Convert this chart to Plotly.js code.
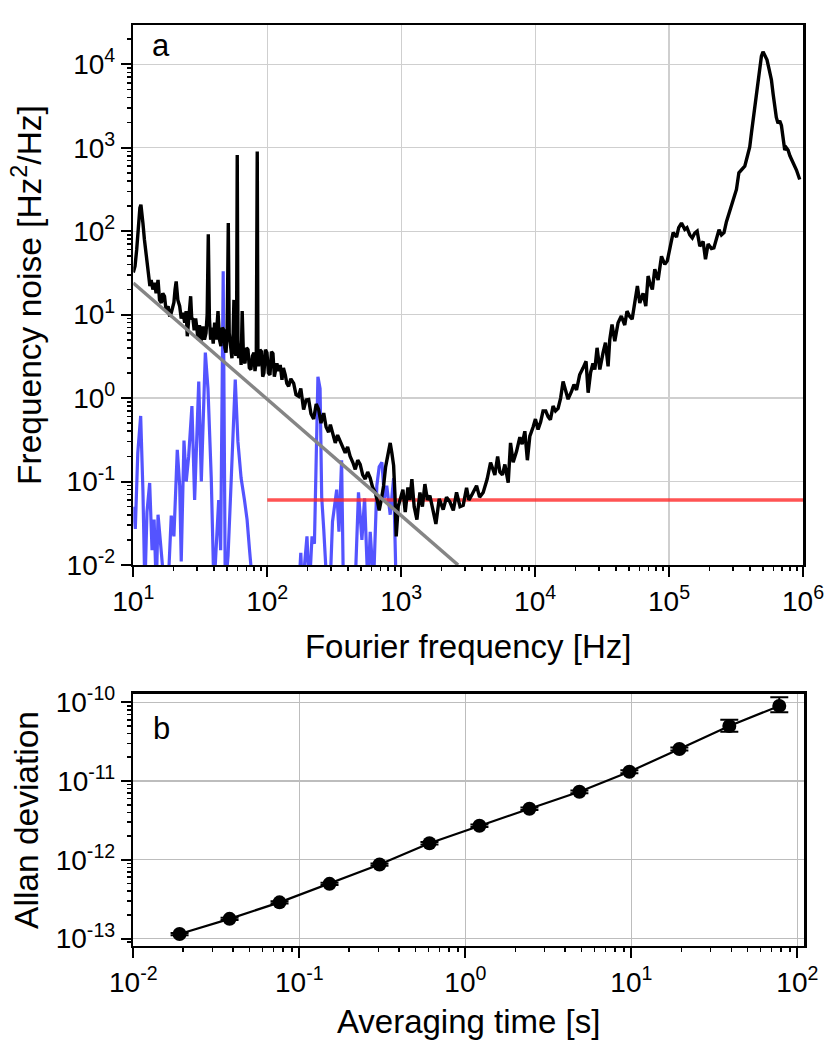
<!DOCTYPE html>
<html>
<head>
<meta charset="utf-8">
<script src="https://cdn.plot.ly/plotly-3.0.1.min.js"></script>
<style>html,body{margin:0;padding:0;background:#fff;}#chart{width:830px;height:1047px;}</style>
</head>
<body>
<div id="chart"></div>
<script>
// Panel a: frequency noise spectrum (black)
var freqBlack = [10.0,10.3,10.6,10.9,11.2,11.4,11.6,11.8,12.1,12.5,12.8,13.0,13.3,13.6,14.0,14.4,14.8,15.3,15.7,16.2,16.6,17.1,17.6,18.2,18.7,19.2,19.7,20.1,20.5,20.9,21.5,22.2,22.8,23.5,24.2,24.8,25.3,25.8,26.3,26.8,27.3,27.9,28.5,29.2,29.8,30.4,31.2,32.0,33.1,34.0,34.9,35.6,36.3,37.0,37.8,38.6,39.5,40.5,41.5,42.9,44.0,45.1,46.2,47.5,48.3,49.2,50.2,51.2,52.0,53.1,54.5,55.5,56.4,57.3,58.3,59.0,59.7,60.4,61.1,62.5,63.8,65.0,66.5,68.2,70.0,71.8,73.5,75.5,77.5,79.6,81.0,82.8,84.2,85.2,86.2,88.3,90.6,92.5,94.5,97.0,99.5,102,104.8,107.5,110.3,113,115.2,118,121.7,125,128.8,132,136.3,140,144.4,150,157.5,164,171.5,178,186.9,195,203.8,212,222,232,242,252,264,275,287,296,304,313,322,335,349,365,382,398,416,435,454,474,494,516,539,562,587,612,640,662,685,710,739,765,789,810,828,852,878,898,918,950,984,1030,1072,1122,1160,1202,1250,1310,1380,1440,1503,1570,1637,1734,1816,1923,2058,2180,2309,2450,2590,2750,2904,3077,3200,3352,3500,3653,3850,4093,4385,4647,5003,5250,5454,5700,5943,6295,6550,6855,7266,7691,8000,8379,8750,9129,9661,10050,10520,11000,11460,12000,12490,13000,13610,14200,14840,15500,16170,17620,18690,19500,20370,21500,22820,24000,24870,25920,27000,27910,29000,30410,32150,33500,35050,36070,37500,39320,41620,44000,46670,48500,50880,53000,55450,58000,60430,63970,67000,69720,71780,75000,78220,82800,87760,92910,97000,101200,107200,113600,118000,123800,131000,136000,142800,149000,155600,162000,169600,179500,187000,195600,207100,216000,225700,236000,246000,257000,268100,280000,292200,305000,318400,332000,347000,367400,385000,400100,412000,423600,436000,448600,462000,475000,489000,502700,520000,538300,560000,580700,598000,614800,632000,650600,670000,689800,710000,730000,750000,772900,798000,823900,860000,893200,944600,970000,1000000];
var noiseBlack = [32,38,60,120,190,207,170,125,80,50,33,29,22,26,20,24,18,26,15,13.8,18,16.6,11,12.6,9.5,10.5,13,14,20,25,15,12.6,9,10.5,8,11,5.5,9,12,16.6,9,8.8,6.5,9,7,5.0,7.5,4.8,7.2,5,6,10,92,9,5.0,7,4.5,8.0,5,11,5,4.2,7,6.5,4,3.5,6,125,6,4.0,3,5,15,4,3.2,5,820,5,3.0,4.5,2.5,11,3,2.6,4,3.8,2.3,2.2,3.2,3.5,2.1,2.8,900,3,2.4,3.8,3.6,1.8,2.0,3.8,3.5,2.0,1.9,3.6,3.4,1.8,2.2,2.6,2.1,2.5,1.65,2.3,1.9,1.5,1.38,1.7,1.5,1.1,1.05,1.3,0.73,0.95,0.96,0.65,0.56,0.85,0.73,0.5,0.66,0.45,0.39,0.48,0.41,0.33,0.29,0.36,0.31,0.25,0.22,0.26,0.20,0.17,0.14,0.18,0.16,0.12,0.107,0.13,0.11,0.085,0.074,0.06,0.045,0.06,0.089,0.15,0.2,0.27,0.29,0.22,0.155,0.07,0.022,0.05,0.062,0.08,0.043,0.085,0.06,0.107,0.05,0.035,0.074,0.05,0.093,0.06,0.068,0.043,0.031,0.062,0.046,0.065,0.057,0.045,0.074,0.05,0.052,0.084,0.06,0.068,0.08,0.089,0.065,0.074,0.107,0.169,0.12,0.20,0.13,0.12,0.16,0.097,0.29,0.17,0.23,0.34,0.28,0.4,0.18,0.35,0.45,0.56,0.42,0.52,0.7,0.70,0.6,0.55,0.8,0.70,0.75,1.0,1.58,0.97,1.2,1.45,1.25,1.9,2.3,2.76,1.16,2.0,2.6,2.2,4.0,2.2,3.5,4.6,2.4,5.0,7.6,4.8,8.0,9.6,7.5,11,9.5,8.8,14,22,13.8,18,12.6,29,24,20,35,26,50,40,44,60,96,85,110,125,105,110,90,83,95,100,66,75,46,70,62,63,80,104,90,96,130,165,210,263,316,500,540,600,800,1020,1500,2140,3300,4900,7200,10300,12500,14100,12800,11300,8500,6500,4400,3100,2300,1960,2100,1850,1200,940,1000,940,800,720,600,540,415];

// Panel a: second spectrum (blue)
var freqBlue = [10.0,10.35,10.8,11.35,11.8,12.2,12.65,13.25,13.8,14.3,14.85,15.3,16.2,17.1,18.15,19.2,20.1,21.3,22.2,22.8,23.9,24.85,25.9,27.4,28.7,29.5,30.8,32.2,34.5,36.1,38.2,40,41.6,43.4,44.9,46.9,48.6,51,53.9,57.7,60.4,63.8,67.6,70.7,73.8,78.3,172,178,183,198,206,216,225,239,248,255,264,278,294,307,330,343,359,370,391,452,480,509,533,565,587,622,658,685,718,750,780,828,878,918];
var noiseBlue = [0.05,0.027,0.22,0.61,0.078,0.005,0.043,0.096,0.015,0.035,0.005,0.04,0.014,0.005,0.005,0.039,0.022,0.24,0.09,0.011,0.31,0.1,0.2,0.80,0.06,0.24,1.58,0.1,3.5,1.3,0.11,0.005,0.015,0.06,0.015,33,0.005,0.013,0.11,1.66,0.3,0.11,0.06,0.035,0.015,0.005,0.005,0.014,0.005,0.022,0.005,0.022,0.018,1.8,1.3,0.065,0.027,0.006,0.005,0.033,0.08,0.025,0.18,0.006,0.005,0.005,0.074,0.02,0.063,0.005,0.025,0.006,0.089,0.15,0.17,0.063,0.089,0.04,0.11,0.005];

// Panel a: 1/f fit (gray) and white-noise level (red)
var freqFit = [10, 2660];
var noiseFit = [23.9, 0.01];
var freqLevel = [100, 1000000];
var noiseLevel = [0.06, 0.06];

// Panel b: Allan deviation
var tau = [0.019,0.038,0.076,0.152,0.304,0.608,1.216,2.432,4.864,9.728,19.46,38.9,77.8];
var adev = [1.14e-13,1.78e-13,2.88e-13,4.95e-13,8.7e-13,1.62e-12,2.70e-12,4.45e-12,7.3e-12,1.31e-11,2.55e-11,5.0e-11,8.98e-11];
var adevErrPlus = [4e-15,6e-15,1e-14,1.7e-14,3e-14,6e-14,1e-13,1.7e-13,3e-13,6e-13,1.2e-12,9.7e-12,2.6e-11];
var adevErrMinus = [4e-15,6e-15,1e-14,1.7e-14,3e-14,6e-14,1e-13,1.7e-13,3e-13,6e-13,1.2e-12,7.7e-12,1.5e-11];

// Tick decades
var decFreq = [1,2,3,4,5,6];
var decNoise = [-2,-1,0,1,2,3,4];
var decTau = [-2,-1,0,1,2];
var decAdev = [-13,-12,-11,-10];

var FONT = 'Liberation Sans, Arial, sans-serif';

var rangeFreq = [1, 6], rangeNoise = [-2, 4.47], rangeTau = [-2, 2.04], rangeAdev = [-13.094, -9.895];

function majorVals(decs){ return decs.map(function(d){ return Math.pow(10,d); }); }
function majorText(decs){ return decs.map(function(d){ return '10<sup>' + String(d) + '</sup>'; }); }
function minorVals(lo, hi){
  var out = [];
  for (var d = Math.floor(lo); d <= Math.ceil(hi); d++) {
    for (var k = 2; k <= 9; k++) {
      var v = k * Math.pow(10, d);
      var lv = Math.log10(v);
      if (lv > lo && lv < hi) out.push(v);
    }
  }
  return out;
}

function majorAxis(decs, range) {
  return {
    type:'log', range:range, showline:true, mirror:true, linecolor:'#000', linewidth:2.5,
    tickmode:'array', tickvals:majorVals(decs), ticktext:majorText(decs),
    ticks:'outside', ticklen:10, tickwidth:2, tickcolor:'#000',
    showgrid:true, gridcolor:'#cfcfcf', gridwidth:1.2,
    zeroline:false,
    tickfont:{family:FONT, size:28, color:'#000'},
    automargin:false
  };
}
function minorAxis(range, over, anchor, side) {
  return {
    type:'log', range:range, overlaying:over, anchor:anchor, side:side,
    tickmode:'array', tickvals:minorVals(range[0], range[1]),
    ticks:'outside', ticklen:5, tickwidth:1.6, tickcolor:'#000',
    showticklabels:false, showgrid:false, showline:false, zeroline:false, automargin:false
  };
}

var traces = [
  {x: freqBlue, y: noiseBlue, xaxis:'x', yaxis:'y', mode:'lines', line:{color:'rgba(60,60,255,0.88)', width:3.2}, hoverinfo:'skip'},
  {x: freqLevel, y: noiseLevel, xaxis:'x', yaxis:'y', mode:'lines', line:{color:'rgba(255,40,40,0.8)', width:3.5}},
  {x: freqBlack, y: noiseBlack, xaxis:'x', yaxis:'y', mode:'lines', line:{color:'#000', width:3.4}},
  {x: freqFit, y: noiseFit, xaxis:'x', yaxis:'y', mode:'lines', line:{color:'#858585', width:3.5}},
  {x: tau, y: adev, xaxis:'x2', yaxis:'y2', mode:'lines+markers',
   line:{color:'#000', width:2.2}, marker:{color:'#000', size:14, symbol:'circle'},
   error_y:{type:'data', symmetric:false, array:adevErrPlus, arrayminus:adevErrMinus, color:'#000', thickness:2, width:9}},
  {x: [], y: [], xaxis:'x3', yaxis:'y3', mode:'lines', showlegend:false},
  {x: [], y: [], xaxis:'x4', yaxis:'y4', mode:'lines', showlegend:false}
];

var xa = majorAxis(decFreq, rangeFreq);
var ya = majorAxis(decNoise, rangeNoise);
var xb = majorAxis(decTau, rangeTau);
var yb = majorAxis(decAdev, rangeAdev);
xb.gridcolor = '#bdbdbd'; yb.gridcolor = '#bdbdbd';

var layout = {
  width:830, height:1047, paper_bgcolor:'#fff', plot_bgcolor:'#fff',
  margin:{l:0, r:0, t:0, b:0}, showlegend:false,
  font:{family:FONT, color:'#000'},
  xaxis: Object.assign(xa, {domain:[0.1606, 0.9675], anchor:'y',
    title:{text:'Fourier frequency [Hz]', font:{family:FONT, size:33}, standoff:19}}),
  yaxis: Object.assign(ya, {domain:[0.4604, 0.9761], anchor:'x',
    title:{text:'Frequency noise [Hz<sup>2</sup>/Hz]', font:{family:FONT, size:33.5}, standoff:15}}),
  xaxis2: Object.assign(xb, {domain:[0.1606, 0.9687], anchor:'y2',
    title:{text:'Averaging time [s]', font:{family:FONT, size:33}, standoff:13}}),
  yaxis2: Object.assign(yb, {domain:[0.0965, 0.3372], anchor:'x2',
    title:{text:'Allan deviation', font:{family:FONT, size:33.5}, standoff:7}}),
  xaxis3: Object.assign(minorAxis(rangeFreq, 'x', 'y', 'bottom'), {domain:[0.1606, 0.9675]}),
  yaxis3: Object.assign(minorAxis(rangeNoise, 'y', 'x', 'left'), {domain:[0.4604, 0.9761]}),
  xaxis4: Object.assign(minorAxis(rangeTau, 'x2', 'y2', 'bottom'), {domain:[0.1606, 0.9687]}),
  yaxis4: Object.assign(minorAxis(rangeAdev, 'y2', 'x2', 'left'), {domain:[0.0965, 0.3372]}),
  annotations:[
    {xref:'paper', yref:'paper', x:161/830, y:1-46/1047, text:'a', showarrow:false, xanchor:'center', yanchor:'middle', font:{family:FONT, size:31, color:'#000'}},
    {xref:'paper', yref:'paper', x:161/830, y:1-728/1047, text:'b', showarrow:false, xanchor:'center', yanchor:'middle', font:{family:FONT, size:31, color:'#000'}}
  ]
};

Plotly.newPlot('chart', traces, layout, {staticPlot:true, displayModeBar:false});
</script>
</body>
</html>
